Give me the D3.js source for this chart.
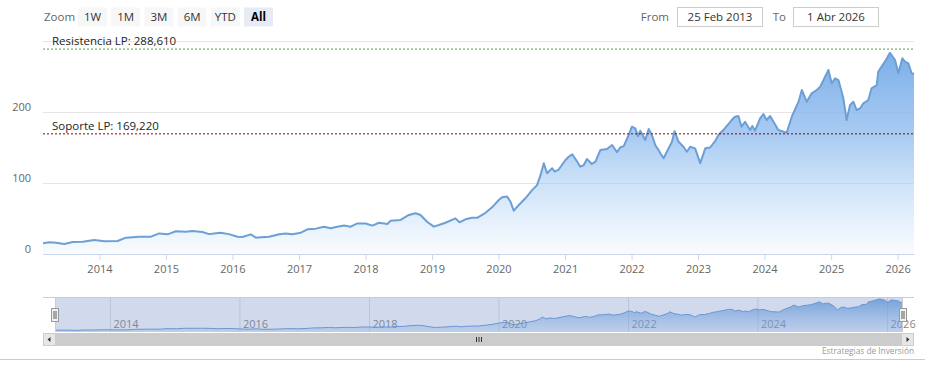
<!DOCTYPE html>
<html>
<head>
<meta charset="utf-8">
<script src="https://cdn.jsdelivr.net/npm/d3@7/dist/d3.min.js"></script>
<style>
  html, body { margin: 0; padding: 0; background: #fff; }
  svg { display: block; font-family: "Open Sans", "DejaVu Sans", sans-serif; }
</style>
</head>
<body>
<script>
// ---------------- DATA ----------------
const dates = [
  "2013-02-25","2013-04-01","2013-05-08","2013-06-22","2013-08-07","2013-10-01","2013-12-04",
  "2014-01-28","2014-04-10","2014-05-27","2014-08-08","2014-10-11","2014-11-25",
  "2015-01-10","2015-02-25","2015-04-20","2015-05-27","2015-07-20","2015-08-26","2015-09-22","2015-10-29","2015-12-13",
  "2016-01-29","2016-02-25","2016-04-11","2016-05-09","2016-06-05","2016-07-21","2016-09-14","2016-10-20","2016-11-25",
  "2017-01-11","2017-02-16","2017-04-03","2017-05-18","2017-06-24","2017-07-30","2017-09-05","2017-10-12","2017-11-17",
  "2018-01-02","2018-02-08","2018-03-16","2018-05-01","2018-05-19","2018-07-13","2018-08-27","2018-10-03","2018-10-30","2018-12-05",
  "2019-01-11","2019-02-08","2019-03-16","2019-05-10","2019-06-01","2019-07-04","2019-08-09","2019-09-06","2019-10-22","2019-11-27",
  "2020-01-03","2020-01-21","2020-02-18","2020-03-07","2020-03-25","2020-04-22","2020-05-28","2020-07-04","2020-07-31","2020-08-19","2020-09-06","2020-09-24","2020-10-22","2020-11-05","2020-11-27",
  "2021-01-03","2021-01-21","2021-02-09","2021-02-27","2021-03-26","2021-04-13","2021-05-01","2021-05-28","2021-06-17","2021-07-14","2021-08-19","2021-09-16","2021-10-13","2021-11-01","2021-11-19","2021-12-16",
  "2022-01-03","2022-01-22","2022-02-05","2022-02-18","2022-03-17","2022-04-05","2022-04-23","2022-05-11","2022-05-29","2022-06-08","2022-06-26","2022-07-14","2022-08-11","2022-08-25","2022-09-16","2022-10-13","2022-11-01","2022-11-19","2022-12-16",
  "2023-01-13","2023-02-10","2023-03-08","2023-04-05","2023-04-23","2023-05-20","2023-07-05","2023-07-23","2023-08-11","2023-08-28","2023-09-16","2023-10-14","2023-10-26","2023-11-10","2023-12-08","2023-12-26",
  "2024-01-13","2024-02-01","2024-03-17","2024-05-02","2024-05-30","2024-07-06","2024-07-24","2024-08-20","2024-09-16","2024-10-14","2024-11-02","2024-11-20","2024-12-17",
  "2025-01-04","2025-01-23","2025-02-10","2025-02-25","2025-03-09","2025-03-27","2025-04-15","2025-05-03","2025-05-21","2025-06-09","2025-06-27","2025-07-24","2025-08-11","2025-09-08","2025-09-17","2025-10-23","2025-11-20","2025-12-18",
  "2026-01-05","2026-01-27","2026-02-11","2026-03-01","2026-03-19","2026-04-01"
];
const values = [
  15,16.5,16,14,17,17.3,19.7,
  18,18.3,23,24.4,24.4,29,
  27.7,32,31.4,32.4,31,28,29,30,28,
  24.4,24,27.7,23,23.5,24.4,27.7,29,27.7,
  30,34.7,35.7,38.5,36.2,38.5,40,38.5,43,
  43,40,44,42.3,47,48,55,57.3,55,45.5,
  38.5,40.8,44,50.2,44.6,48.9,51,51,58,65.7,
  76,80,81,73.7,61,69,78.5,90,97,111,127.7,113.7,120.7,116,119,
  132.4,137,140.4,133.8,123,125,133.8,126.8,130,146.5,147.9,153.5,143.5,150.3,152,167.6,
  179.3,177,166,173.7,160.6,176,167.6,153.5,146.5,141.8,134.8,144,158,173,158,151,144,151,148.8,
  128,148.8,150,159,167.6,174.6,188.7,193.4,194.4,179.3,186.3,174.6,180.3,173.7,191,197.2,
  188.7,194.4,174.6,170.9,193.4,214.5,231,214.5,226.3,231,235.6,245,259.2,
  240.4,247.5,245,231,219.3,188.7,209.9,214.5,202.8,205.2,212.2,216.9,233.4,238,256.8,270.9,283.5,273.2,
  254.5,275.6,270.9,268.6,254.5,254
];
const rangeStart = "2013-02-25";
const rangeEnd = "2026-04-01";
const yTickValues = [0, 100, 200, 300];
const yTickLabels = ["0", "100", "200", ""];
const xTickYears = [2014,2015,2016,2017,2018,2019,2020,2021,2022,2023,2024,2025,2026];
const navTickYears = [2014,2016,2018,2020,2022,2024,2026];
const levelValues = [288.61, 169.22];
const levelLabels = ["Resistencia LP: 288,610", "Soporte LP: 169,220"];
const rangeButtons = ["1W","1M","3M","6M","YTD","All"];
const selectedButton = "All";
const fromLabel = "From", toLabel = "To";
const fromText = "25 Feb 2013", toText = "1 Abr 2026";
const creditText = "Estrategias de Inversión";

// ---------------- CHART ----------------
const W = 925, H = 375;
const parse = d3.timeParse("%Y-%m-%d");
const data = dates.map((d, i) => ({ date: parse(d), value: values[i] }));

const svg = d3.select("body").append("svg").attr("width", W).attr("height", H);
const defs = svg.append("defs");

const plotL = 43, plotR = 914, plotT = 41, plotB = 254;
const x = d3.scaleTime().domain([parse(rangeStart), parse(rangeEnd)]).range([plotL, plotR]);
const y = d3.scaleLinear().domain([0, 300]).range([plotB, plotT]);

// gradient for main area
const grad = defs.append("linearGradient").attr("id", "areaGrad")
  .attr("gradientUnits", "userSpaceOnUse").attr("x1", 0).attr("x2", 0)
  .attr("y1", plotT).attr("y2", plotB);
grad.append("stop").attr("offset", "0%").attr("stop-color", "#74aae6").attr("stop-opacity", 1);
grad.append("stop").attr("offset", "45%").attr("stop-color", "#8dbbee").attr("stop-opacity", 0.75);
grad.append("stop").attr("offset", "100%").attr("stop-color", "#a9cdf3").attr("stop-opacity", 0.08);

// y grid + labels
const yAxis = d3.axisLeft(y).tickValues(yTickValues)
  .tickFormat((d, i) => yTickLabels[i]).tickSize(-(plotR - plotL)).tickPadding(0);
const gy = svg.append("g").attr("transform", `translate(${plotL},0)`).call(yAxis);
gy.select(".domain").remove();
gy.selectAll(".tick line").attr("stroke", "#e6e6e6");
gy.selectAll(".tick text").attr("x", -12).attr("dy", -2)
  .attr("fill", "#666").style("font-size", "11px").style("font-family", "Open Sans");

// area + line
const area = d3.area().x(d => x(d.date)).y0(y(0)).y1(d => y(d.value));
const line = d3.line().x(d => x(d.date)).y(d => y(d.value));
svg.append("path").datum(data).attr("d", area).attr("fill", "url(#areaGrad)");
svg.append("path").datum(data).attr("d", line).attr("fill", "none")
  .attr("stroke", "#6c9fd6").attr("stroke-width", 2).attr("stroke-linejoin", "round");

// x axis
const xAxis = d3.axisBottom(x).tickValues(xTickYears.map(yr => new Date(yr, 0, 1)))
  .tickFormat(d3.timeFormat("%Y")).tickSize(6).tickSizeOuter(0).tickPadding(5);
const gx = svg.append("g").attr("transform", `translate(0,${plotB})`).call(xAxis);
gx.select(".domain").attr("stroke", "#ccd6eb");
gx.selectAll(".tick line").attr("stroke", "#ccd6eb");
gx.selectAll(".tick text").attr("fill", "#666").style("font-size", "11px").style("font-family", "Open Sans");

// plot lines (resistance / support)
const levelColors = ["#5c9a4c", "#8b0000"];
levelValues.forEach((v, i) => {
  svg.append("line").attr("x1", plotL).attr("x2", plotR).attr("y1", y(v)).attr("y2", y(v))
    .attr("stroke", levelColors[i]).attr("stroke-width", 1).attr("stroke-dasharray", "2,2");
  svg.append("text").attr("x", 52).attr("y", y(v) - 4).text(levelLabels[i])
    .attr("fill", "#222").style("font-size", "11.5px").style("font-family", "Open Sans");
});

// ---------------- RANGE SELECTOR ----------------
svg.append("text").attr("x", 44).attr("y", 21).text("Zoom")
  .attr("fill", "#666").style("font-size", "11.5px");
rangeButtons.forEach((b, i) => {
  const bx = 78 + i * 33.2;
  const sel = b === selectedButton;
  svg.append("rect").attr("x", bx).attr("y", 7.5).attr("width", 29).attr("height", 19)
    .attr("fill", sel ? "#e6ebf5" : "#f7f7f7");
  svg.append("text").attr("x", bx + 14.5).attr("y", 21).attr("text-anchor", "middle").text(b)
    .attr("fill", sel ? "#000" : "#333").style("font-size", "11.5px")
    .style("font-weight", sel ? "bold" : "normal");
});
svg.append("text").attr("x", 669).attr("y", 21).attr("text-anchor", "end").text(fromLabel)
  .attr("fill", "#666").style("font-size", "11.5px");
svg.append("rect").attr("x", 677.5).attr("y", 7.5).attr("width", 85).attr("height", 19)
  .attr("fill", "#fff").attr("stroke", "#cccccc");
svg.append("text").attr("x", 720).attr("y", 21).attr("text-anchor", "middle").text(fromText)
  .attr("fill", "#333").style("font-size", "11.5px");
svg.append("text").attr("x", 786).attr("y", 21).attr("text-anchor", "end").text(toLabel)
  .attr("fill", "#666").style("font-size", "11.5px");
svg.append("rect").attr("x", 793.5).attr("y", 7.5).attr("width", 85).attr("height", 19)
  .attr("fill", "#fff").attr("stroke", "#cccccc");
svg.append("text").attr("x", 836).attr("y", 21).attr("text-anchor", "middle").text(toText)
  .attr("fill", "#333").style("font-size", "11.5px");

// ---------------- NAVIGATOR ----------------
const navT = 297, navB = 332, navL = 55, navR = 903;
const xn = d3.scaleTime().domain([parse(rangeStart), parse(rangeEnd)]).range([navL, navR]);
const yn = d3.scaleLinear().domain([0, 300]).range([navB, navT]);

const ngrad = defs.append("linearGradient").attr("id", "navGrad")
  .attr("gradientUnits", "userSpaceOnUse").attr("x1", 0).attr("x2", 0)
  .attr("y1", navT).attr("y2", navB);
ngrad.append("stop").attr("offset", "0%").attr("stop-color", "#5d9be0").attr("stop-opacity", 0.85);
ngrad.append("stop").attr("offset", "100%").attr("stop-color", "#8fbcee").attr("stop-opacity", 0.25);

const navAxis = d3.axisBottom(xn).tickValues(navTickYears.map(yr => new Date(yr, 0, 1)))
  .tickFormat(d3.timeFormat("%Y")).tickSize(-(navB - navT)).tickSizeOuter(0);
const gn = svg.append("g").attr("transform", `translate(0,${navB})`).call(navAxis);
gn.select(".domain").remove();
gn.selectAll(".tick line").attr("stroke", "#e0e0e0");
gn.selectAll(".tick text").attr("text-anchor", "start").attr("x", 3).attr("y", -4).attr("dy", 0)
  .attr("fill", "#888").style("font-size", "11px").style("font-family", "Open Sans");

const navArea = d3.area().x(d => xn(d.date)).y0(navB).y1(d => yn(d.value));
const navLine = d3.line().x(d => xn(d.date)).y(d => yn(d.value));
svg.append("path").datum(data).attr("d", navArea).attr("fill", "url(#navGrad)");
svg.append("path").datum(data).attr("d", navLine).attr("fill", "none")
  .attr("stroke", "#6c9fd6").attr("stroke-width", 1);

// selection mask
svg.append("rect").attr("x", navL).attr("y", navT).attr("width", navR - navL).attr("height", navB - navT)
  .attr("fill", "rgba(102,133,194,0.3)");
// outline
svg.append("path")
  .attr("d", `M${plotL},${navT + 0.5}H${plotR}M${navL + 0.5},${navT}V${navB}M${navR - 0.5},${navT}V${navB}`)
  .attr("stroke", "#cccccc").attr("fill", "none");

// handles
[navL, navR].forEach(hx => {
  svg.append("rect").attr("x", hx - 3.5).attr("y", 308.5).attr("width", 7).attr("height", 13)
    .attr("fill", "#f2f2f2").attr("stroke", "#999");
  svg.append("path").attr("d", `M${hx - 1},311V319M${hx + 1},311V319`)
    .attr("stroke", "#333").attr("stroke-width", 0.8);
});

// scrollbar
const sbT = 333, sbH = 13;
svg.append("rect").attr("x", plotL).attr("y", sbT).attr("width", plotR - plotL).attr("height", sbH)
  .attr("fill", "#f2f2f2");
svg.append("rect").attr("x", navL).attr("y", sbT).attr("width", navR - navL).attr("height", sbH)
  .attr("fill", "#cccccc");
svg.append("rect").attr("x", plotL + 0.5).attr("y", sbT + 0.5).attr("width", 12).attr("height", sbH - 1)
  .attr("fill", "#e6e6e6").attr("stroke", "#cccccc");
svg.append("rect").attr("x", plotR - 12.5).attr("y", sbT + 0.5).attr("width", 12).attr("height", sbH - 1)
  .attr("fill", "#e6e6e6").attr("stroke", "#cccccc");
svg.append("path").attr("d", `M${plotL + 7.5},${sbT + 4}L${plotL + 4.5},${sbT + 6.5}L${plotL + 7.5},${sbT + 9}Z`)
  .attr("fill", "#333");
svg.append("path").attr("d", `M${plotR - 7.5},${sbT + 4}L${plotR - 4.5},${sbT + 6.5}L${plotR - 7.5},${sbT + 9}Z`)
  .attr("fill", "#333");
const gc = (navL + navR) / 2;
svg.append("path").attr("d", `M${gc - 2.5},${sbT + 4}V${sbT + 9}M${gc},${sbT + 4}V${sbT + 9}M${gc + 2.5},${sbT + 4}V${sbT + 9}`)
  .attr("stroke", "#333").attr("stroke-width", 1);

// credits
svg.append("text").attr("x", plotR).attr("y", 354).attr("text-anchor", "end").text(creditText)
  .attr("fill", "#999").style("font-size", "8.3px");

// bottom border
svg.append("line").attr("x1", 0).attr("x2", W).attr("y1", 359.5).attr("y2", 359.5)
  .attr("stroke", "#c8ccd6");
</script>
</body>
</html>
